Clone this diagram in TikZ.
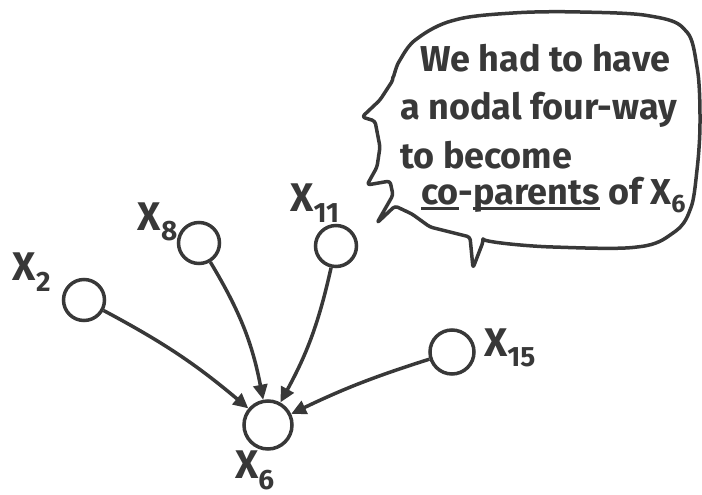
\documentclass[tikz,border=0pt]{standalone}
\usepackage{fontspec}
\setmainfont{Fira Sans}
\usetikzlibrary{arrows.meta,positioning}
\definecolor{ink}{HTML}{383838}
\newcommand{\undr}[1]{\setbox0\hbox{#1}\rlap{\rule[-6pt]{\wd0}{3pt}}\box0\relax}

\begin{document}
\begin{tikzpicture}[x=1pt,y=-1pt,
			var/.style={circle,draw=ink,line width=3.5pt,inner sep=0pt,minimum size=41pt},
			vlab/.style={text=ink,inner sep=0pt,font=\fontsize{40}{42}\selectfont\bfseries},
			say/.style={text=ink,inner sep=0pt,anchor=base west,font=\fontsize{36}{38}\selectfont\bfseries},
			link/.style={draw=ink,line width=3.5pt,-{Triangle[length=15pt,width=14pt]}},
			bubble/.style={draw=ink,line width=3.5pt,line join=round,rounded corners=3pt}
			]
			\useasboundingbox (0,0) rectangle (702,495);
			\node[var] (x2) at (84,300) {};
			\node[var] (x8) at (199,243) {};
			\node[var] (x11) at (336,246) {};
			\node[var,minimum size=48pt] (x6) at (268,425) {};
			\node[var,minimum size=44pt] (x15) at (452,352) {};
			\node[vlab] (lx2) at (32,272) {X\textsubscript{2}};
			\node[vlab] (lx8) at (158,222) {X\textsubscript{8}};
			\node[vlab] (lx11) at (315,203) {X\textsubscript{11}};
			\node[vlab] (lx6) at (255,470) {X\textsubscript{6}};
			\node[vlab] (lx15) at (510,348) {X\textsubscript{15}};
			\draw[link] (x2) to[bend left=6] (x6);
			\draw[link] (x8) to[bend left=10] (x6);
			\draw[link] (x11) to[bend left=8] (x6);
			\draw[link] (x15) to[bend right=4] (x6);
			\draw[bubble] plot[smooth,tension=0.6] coordinates {(483,242) (553,247) (637,247) (673,233) (690,210) (697,170) (700,120) (697,67) (685,30) (650,16) (580,12) (513,13) (455,20) (418,38) (400,60) (393,80)}
			-- (380,100) -- (362,117) -- (375,121) -- (380,147) -- (377,167) -- (367,185) -- (390,181) -- (393,195) -- (377,223) -- (395,206) -- (412,214) -- (430,227) -- (470,237) -- (473,268) -- cycle;
			\node[say] (t1) at (420,72) {We had to have};
			\node[say] (t2) at (400,120) {a nodal four-way};
			\node[say] (t3) at (400,168) {to become};
			\node[say] (t4) at (421,204) {\undr{co}-\undr{parents} of X\textsubscript{6}};
		\end{tikzpicture}
\end{document}
